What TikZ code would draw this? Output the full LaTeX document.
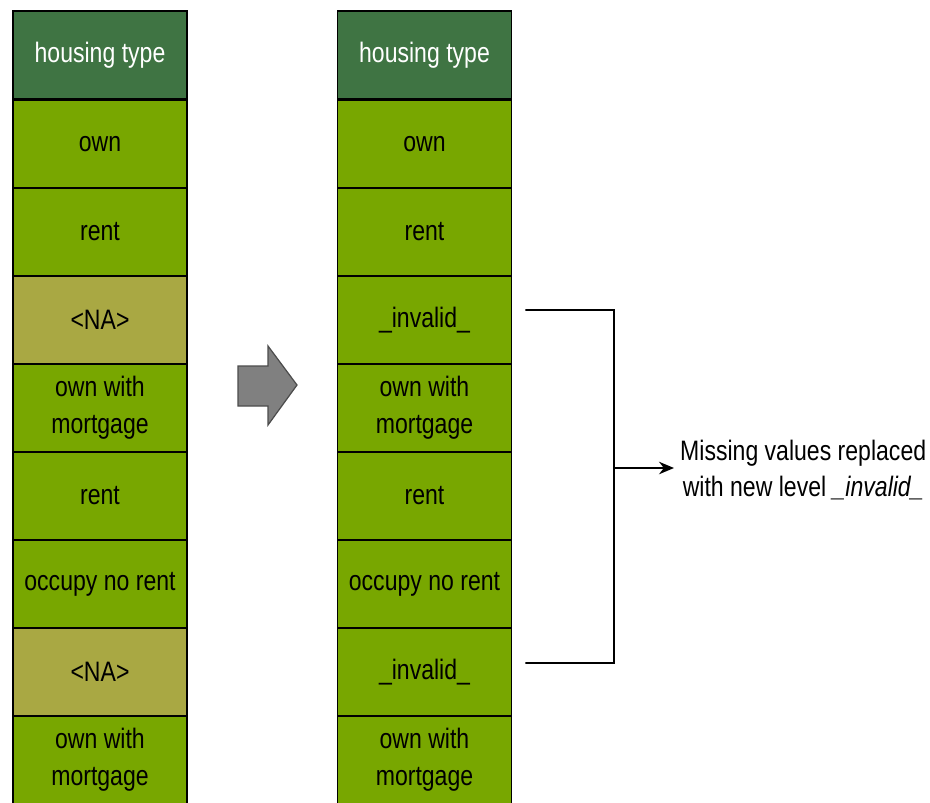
\documentclass[tikz,border=0pt]{standalone}
\usepackage{fontspec}
\setmainfont{Liberation Sans}[FakeStretch=0.82]
\usepackage{tikz}
\usetikzlibrary{arrows.meta, positioning}
\definecolor{headgreen}{HTML}{3F7443}
\definecolor{cellgreen}{HTML}{78A700}
\definecolor{nacell}{HTML}{A9A843}
\definecolor{arrowgray}{HTML}{808080}
\tikzset{
	cell/.style={draw, line width=1pt, fill=cellgreen, minimum width=3.48cm, minimum height=1.76cm, align=center, font=\fontsize{16}{21}\selectfont},
	head/.style={cell, fill=headgreen, text=white},
	missing/.style={cell, fill=nacell},
	link/.style={draw, line width=0.9pt}
}

\begin{document}
\begin{tikzpicture}[x=0.02cm, y=-0.02cm]
		\useasboundingbox (0,0) rectangle (930,802);
		
		% original column
		\node[head] (l0) at (100,55) {housing type};
		\node[cell] (l1) at (100,144) {own};
		\node[cell] (l2) at (100,232) {rent};
		\node[missing] (l3) at (100,320) {<NA>};
		\node[cell] (l4) at (100,408) {own with \\ mortgage};
		\node[cell] (l5) at (100,496) {rent};
		\node[cell] (l6) at (100,584) {occupy no rent};
		\node[missing] (l7) at (100,672) {<NA>};
		\node[cell] (l8) at (100,760) {own with \\ mortgage};
		
		% cleaned column
		\node[head] (r0) at (424.5,55) {housing type};
		\node[cell] (r1) at (424.5,144) {own};
		\node[cell] (r2) at (424.5,232) {rent};
		\node[cell] (r3) at (424.5,320) {\_invalid\_};
		\node[cell] (r4) at (424.5,408) {own with \\ mortgage};
		\node[cell] (r5) at (424.5,496) {rent};
		\node[cell] (r6) at (424.5,584) {occupy no rent};
		\node[cell] (r7) at (424.5,672) {\_invalid\_};
		\node[cell] (r8) at (424.5,760) {own with \\ mortgage};
		
		% block arrow
		\draw[fill=arrowgray, draw=black!70, line width=0.7pt]
			(238,366) -- (268,366) -- (268,346) -- (297,385) -- (268,425) -- (268,406) -- (238,406) -- cycle;
		
		\node[align=center, font=\fontsize{16}{21}\selectfont, anchor=west] (note) at (674,470)
			{Missing values replaced \\ with new level \textit{\_invalid\_}};
		
		\coordinate (b1) at (614,310);
		\coordinate (brk) at (614,468);
		\coordinate (b2) at (614,663);
		\draw[link] ([xshift=0.26cm, yshift=0.2cm]r3.east) -- (b1) -- (b2) -- ([xshift=0.26cm, yshift=0.18cm]r7.east);
		\draw[link, -{Stealth[length=3mm, width=2.5mm]}] (brk) -- (brk -| note.west);
	\end{tikzpicture}
\end{document}
